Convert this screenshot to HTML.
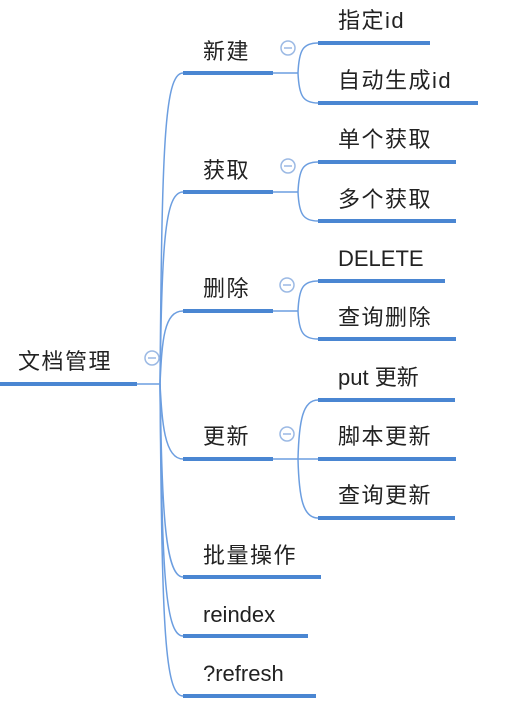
<!DOCTYPE html>
<html><head><meta charset="utf-8"><style>
html,body{margin:0;padding:0;background:#fff;width:509px;height:705px;overflow:hidden}
svg text{font-family:"Liberation Sans","Noto Sans CJK SC",sans-serif;font-size:22px;fill:#222}
svg text.c{letter-spacing:1.5px}
</style></head><body>
<svg width="509" height="705" viewBox="0 0 509 705" xmlns="http://www.w3.org/2000/svg">
<g fill="none" stroke="#6c9ee0" stroke-width="1.5">
<path d="M137,384 L160,384"/>
<path d="M160,384 C162,150 164,73 183,73"/>
<path d="M160,384 C162,250 164,192 183,192"/>
<path d="M160,384 C162,340 164,311 183,311"/>
<path d="M160,384 C162,420 164,459 183,459"/>
<path d="M160,384 C162,500 164,577 183,577"/>
<path d="M160,384 C162,560 164,636 183,636"/>
<path d="M160,384 C162,620 164,696 183,696"/>
<path d="M273,73 L298,73 M298,73 C299,50 303,43 318,43 M298,73 C299,96 303,103 318,103"/>
<path d="M273,192 L298,192 M298,192 C299,169 303,162 318,162 M298,192 C299,214 303,221 318,221"/>
<path d="M273,311 L298,311 M298,311 C299,288 303,281 318,281 M298,311 C299,332 303,339 318,339"/>
<path d="M273,459 L318,459 M298,459 C299,420 303,400 318,400 M298,459 C299,498 303,518 318,518"/>
</g>
<g stroke="#4a86d2" stroke-width="4" stroke-linecap="butt">
<line x1="0" y1="384" x2="137" y2="384"/>
<line x1="183" y1="73" x2="273" y2="73"/>
<line x1="183" y1="192" x2="273" y2="192"/>
<line x1="183" y1="311" x2="273" y2="311"/>
<line x1="183" y1="459" x2="273" y2="459"/>
<line x1="183" y1="577" x2="321" y2="577"/>
<line x1="183" y1="636" x2="308" y2="636"/>
<line x1="183" y1="696" x2="316" y2="696"/>
<line x1="318" y1="43" x2="430" y2="43"/>
<line x1="318" y1="103" x2="478" y2="103"/>
<line x1="318" y1="162" x2="456" y2="162"/>
<line x1="318" y1="221" x2="456" y2="221"/>
<line x1="318" y1="281" x2="445" y2="281"/>
<line x1="318" y1="339" x2="456" y2="339"/>
<line x1="318" y1="400" x2="455" y2="400"/>
<line x1="318" y1="459" x2="456" y2="459"/>
<line x1="318" y1="518" x2="455" y2="518"/>
</g>
<g fill="#fff" stroke="#9bb9e4" stroke-width="1.5">
<circle cx="152" cy="358" r="7"/>
<circle cx="288" cy="48" r="7"/>
<circle cx="288" cy="166" r="7"/>
<circle cx="287" cy="285" r="7"/>
<circle cx="287" cy="434" r="7"/>
</g>
<g stroke="#9bb9e4" stroke-width="1.5">
<line x1="148" y1="358" x2="156" y2="358"/>
<line x1="284" y1="48" x2="292" y2="48"/>
<line x1="284" y1="166" x2="292" y2="166"/>
<line x1="283" y1="285" x2="291" y2="285"/>
<line x1="283" y1="434" x2="291" y2="434"/>
</g>
<text class="c" x="18" y="369">文档管理</text>
<text class="c" x="203" y="59">新建</text>
<text class="c" x="203" y="178">获取</text>
<text class="c" x="203" y="296">删除</text>
<text class="c" x="203" y="444">更新</text>
<text class="c" x="203" y="563">批量操作</text>
<text x="203" y="622">reindex</text>
<text x="203" y="681">?refresh</text>
<text class="c" x="338" y="28">指定id</text>
<text class="c" x="338" y="88">自动生成id</text>
<text class="c" x="338" y="147">单个获取</text>
<text class="c" x="338" y="207">多个获取</text>
<text x="338" y="266">DELETE</text>
<text class="c" x="338" y="325">查询删除</text>
<text x="338" y="385">put 更新</text>
<text class="c" x="338" y="444">脚本更新</text>
<text class="c" x="338" y="503">查询更新</text>
</svg>
</body></html>
